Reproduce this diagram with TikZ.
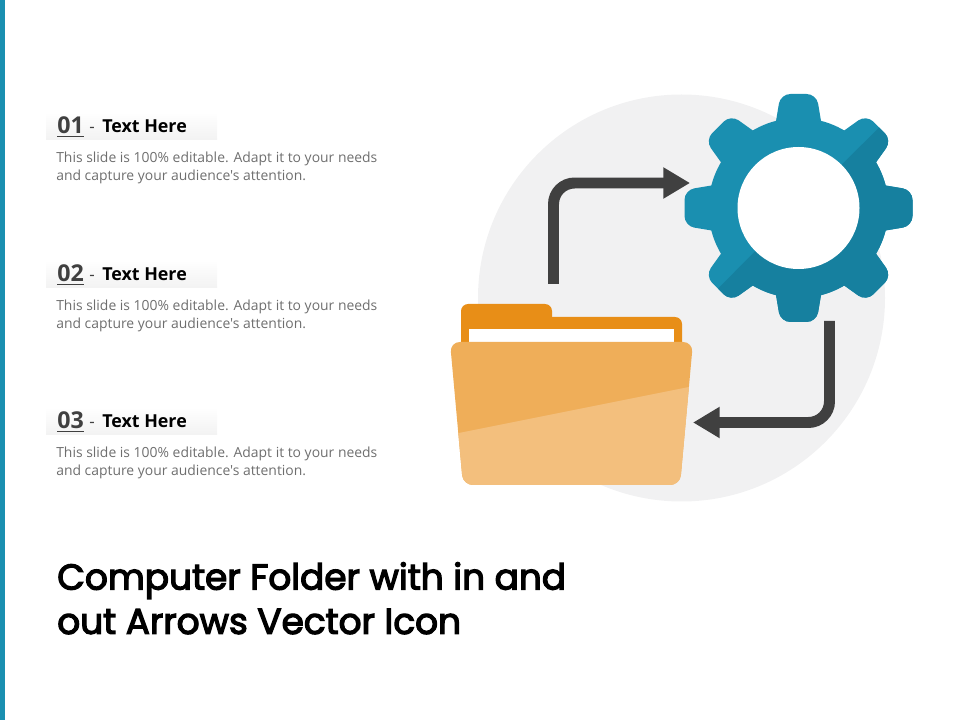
\documentclass[tikz,border=0pt]{standalone}
\usepackage{fontspec}
\setmainfont{Open Sans}
\newfontfamily\bodyfont{Open Sans}
\newfontfamily\titlefont{Poppins}[FakeBold=3.5]
\usepackage{xcolor}
\usetikzlibrary{arrows.meta}
\definecolor{teal}{HTML}{1A8FB0}
\definecolor{darkteal}{HTML}{16809F}
\definecolor{pale}{HTML}{F1F1F2}
\definecolor{arrowgray}{HTML}{404040}
\definecolor{tabor}{HTML}{E88E17}
\definecolor{frontor}{HTML}{EFAE59}
\definecolor{lightor}{HTML}{F3BF7D}
\definecolor{bodygray}{HTML}{6E6E6E}
\newcommand{\gearblank}[1]{%
	\fill [#1] (gear) circle (90);
	\foreach \a in {0,45,...,315}
		\fill [#1,shift={(gear)},rotate=\a] (-27,-60) [rounded corners=7pt] -- (-18,-114) -- (18,-114) [sharp corners] -- (27,-60) -- cycle;
}
\tikzset{
	flow/.style={arrowgray,line width=7.8pt,rounded corners=15pt,-{Triangle[length=19pt,width=21pt]}},
	headbar/.style={bottom color=gray!10,top color=white,draw=none},
	numtext/.style={anchor=base west,inner sep=0pt,font=\fontsize{16.5}{18}\selectfont\bfseries,text=arrowgray},
	headtext/.style={anchor=base west,inner sep=0pt,font=\fontsize{12.7}{14}\selectfont\bfseries,text=black},
	bodytext/.style={anchor=north west,inner sep=0pt,align=left,font=\bodyfont\fontsize{9.9}{12.9}\selectfont,text=bodygray},
	titletext/.style={anchor=north west,inner sep=0pt,align=left,font=\titlefont\fontsize{25.5}{31.5}\selectfont,text=black}
}
\begin{document}
\begin{tikzpicture}[x=0.025cm,y=-0.025cm]
	\useasboundingbox (0,0) rectangle (960,720);
	\fill [teal] (0,0) rectangle (5,720);
	\fill [pale] (681.5,298) circle (203.5);
	% gear
	\coordinate (gear) at (798.5,208);
	\gearblank{teal}
	\begin{scope}
		\clip (598.5,408) -- (998.5,8) -- (998.5,408) -- cycle;
		\gearblank{darkteal}
	\end{scope}
	\fill [white] (gear) circle (61);
	% folder
	\fill [tabor,rounded corners=5pt] (461,350) rectangle (552,304);
	\fill [tabor,rounded corners=5pt] (461,350) rectangle (682,317);
	\fill [white] (469,329) rectangle (674,345);
	\begin{scope}
		\clip [rounded corners=7pt] (450,342) -- (693,342) -- (680,485) -- (463,485) -- cycle;
		\fill [frontor] (440,335) rectangle (700,490);
		\fill [lightor] (440,437) -- (459,433) -- (689,387) -- (700,385) -- (700,490) -- (440,490) -- cycle;
	\end{scope}
	% arrows
	\coordinate (folderout) at (553.5,284);
	\coordinate (cornera) at (553.5,183);
	\coordinate (gearin) at (690,183);
	\coordinate (gearout) at (829.5,321);
	\coordinate (cornerb) at (829.5,422.5);
	\coordinate (folderin) at (693,422.5);
	\draw [flow] (folderout) -- (cornera) -- (gearin);
	\draw [flow] (gearout) -- (cornerb) -- (folderin);
	% text rows
	\foreach \n/\y in {1/112,2/260,3/407}{
		\fill [headbar] (46,\y) rectangle (217,\y+28);
		\node [numtext] (num\n) at (57,\y+22) {\underline{0\n}};
		\node [anchor=base west,inner sep=0pt,text=arrowgray,font=\fontsize{12}{14}\selectfont] (dash\n) at (89,\y+21) {-};
		\node [headtext] (head\n) at (102,\y+21) {Text Here};
		\node [bodytext] (body\n) at (56,\y+39.5) {This slide is 100\% editable. Adapt it to your needs\\and capture your audience's attention.};
	}
	\node [titletext] (title) at (57,562) {Computer Folder with in and\\out Arrows Vector Icon};
\end{tikzpicture}
\end{document}
